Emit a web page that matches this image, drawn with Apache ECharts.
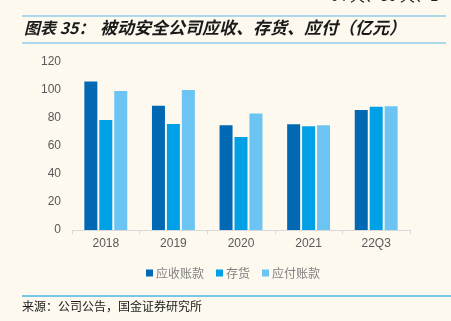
<!DOCTYPE html>
<html>
<head>
<meta charset="utf-8">
<script src="https://cdn.jsdelivr.net/npm/echarts@6/dist/echarts.min.js"></script>
<style>
  html, body { margin: 0; padding: 0; background: #fdf9ef; }
  #chart { width: 451px; height: 321px; }
</style>
</head>
<body>
<div id="chart"></div>
<script>
// 被动安全公司应收账款、存货、应付账款（亿元）
const categories = ['2018', '2019', '2020', '2021', '22Q3'];
const receivables = [106, 88.8, 74.8, 75.5, 85.7];
const inventory = [78.6, 75.7, 66.4, 74.1, 88.1];
const payables = [99.3, 100, 83.3, 74.8, 88.4];
const seriesNames = ['应收账款', '存货', '应付账款'];
const seriesColors = ['#0168b3', '#00a0e6', '#6cc4f3'];
const yTicks = { min: 0, max: 120, interval: 20 };

const chart = echarts.init(document.getElementById('chart'), null, { renderer: 'canvas' });

const cjkFont = '"Noto Sans CJK SC", sans-serif';

chart.setOption({
  backgroundColor: '#fdf9ef',
  animation: false,
  color: seriesColors,
  grid: { left: 72, right: 41, top: 62, bottom: 91, containLabel: false },
  legend: {
    left: 141,
    top: 262,
    itemWidth: 7,
    itemHeight: 7,
    itemGap: 12,
    icon: 'rect',
    textStyle: { color: '#808080', fontSize: 12, fontFamily: cjkFont, padding: [0, 0, 0, -2] },
    data: seriesNames
  },
  xAxis: {
    type: 'category',
    data: categories,
    axisLine: { lineStyle: { color: '#d9d9d9', width: 1 } },
    axisTick: { show: true, alignWithLabel: false, length: 4, lineStyle: { color: '#d9d9d9' } },
    axisLabel: { color: '#595959', fontSize: 12, fontFamily: 'Liberation Sans, Arial', margin: 8 }
  },
  yAxis: {
    type: 'value',
    min: yTicks.min,
    max: yTicks.max,
    interval: yTicks.interval,
    splitLine: { show: false },
    axisLine: { show: false },
    axisTick: { show: false },
    axisLabel: { color: '#595959', fontSize: 12, fontFamily: 'Liberation Sans, Arial', margin: 11 }
  },
  series: [
    { name: seriesNames[0], type: 'bar', data: receivables, barWidth: 13, barGap: '15%' },
    { name: seriesNames[1], type: 'bar', data: inventory, barWidth: 13, barGap: '15%' },
    { name: seriesNames[2], type: 'bar', data: payables, barWidth: 13, barGap: '15%' }
  ],
  graphic: [
    // clipped tail of the preceding paragraph
    {
      type: 'text', left: 330, top: -12,
      style: { text: '64 天、80 天、1', fill: '#222', font: '15px "Noto Sans CJK SC"' }
    },
    {
      type: 'line', shape: { x1: 22, y1: 16, x2: 446, y2: 16 },
      style: { stroke: '#8fcde9', lineWidth: 1.5 }
    },
    {
      type: 'text', left: 24, top: 20,
      style: {
        text: '图表 35：',
        fill: '#1a1a1a',
        font: 'italic bold 16px "Noto Sans CJK SC", sans-serif'
      }
    },
    {
      type: 'text', left: 100, top: 19,
      style: {
        text: '被动安全公司应收、存货、应付（亿元）',
        fill: '#1a1a1a',
        font: 'italic bold 17px "Noto Sans CJK SC", sans-serif'
      }
    },
    {
      type: 'line', shape: { x1: 22, y1: 43, x2: 446, y2: 43 },
      style: { stroke: '#8fcde9', lineWidth: 1.5 }
    },
    {
      type: 'line', shape: { x1: 22, y1: 296, x2: 451, y2: 296 },
      style: { stroke: '#45b4e6', lineWidth: 1.5 }
    },
    {
      type: 'text', left: 22, top: 300,
      style: {
        text: '来源：公司公告，国金证券研究所',
        fill: '#1a1a1a',
        font: '12px "Noto Sans CJK SC", sans-serif'
      }
    }
  ]
});
</script>
</body>
</html>
